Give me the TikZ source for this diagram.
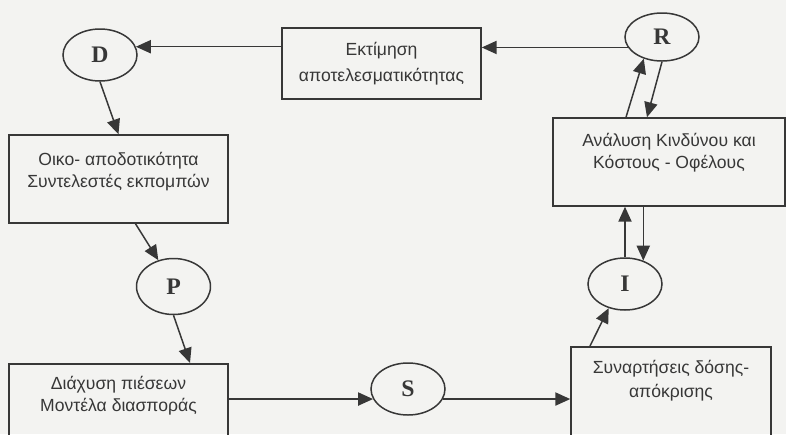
\documentclass[tikz,border=0pt]{standalone}
\usepackage{fontspec}
\setmainfont{Liberation Sans}
\newfontfamily\serifbold{Liberation Serif}
\usetikzlibrary{arrows.meta,shapes.geometric}
\definecolor{paper}{RGB}{243,243,241}
\definecolor{ink}{RGB}{55,55,55}
\tikzset{
  box/.style={draw=ink, line width=0.85pt, minimum width=4.38cm, minimum height=1.76cm},
  txt/.style={align=center, text=ink, font=\fontsize{10}{12.5}\selectfont},
  state/.style={ellipse, draw=ink, line width=0.85pt, minimum width=1.48cm, minimum height=1.04cm, inner sep=0pt, text=ink, font=\serifbold\bfseries\fontsize{13.5}{15}\selectfont},
  link/.style={->, draw=ink, line width=0.85pt}
}

\begin{document}
\begin{tikzpicture}[>={Triangle[length=8.5pt,width=7.5pt]}]
\useasboundingbox[fill=paper] (0,0) rectangle (15.72,-8.68);
\clip (0,0) rectangle (15.72,-8.68);

% boxes
\node[box, minimum width=3.98cm, minimum height=1.42cm, label={[txt]center:{Εκτίμηση\\[2.5pt]αποτελεσματικότητας}}] (est) at (7.63,-1.27) {};
\node[box, label={[txt,yshift=0.14cm]center:{Οικο- αποδοτικότητα\\Συντελεστές εκπομπών}}] (eco) at (2.37,-3.58) {};
\node[box, minimum width=4.64cm, label={[txt,yshift=0.18cm]center:{Ανάλυση Κινδύνου και\\Κόστους - Οφέλους}}] (ana) at (13.38,-3.24) {};
\node[box, anchor=north, minimum height=2cm, label={[txt,yshift=0.36cm]center:{Διάχυση πιέσεων\\Μοντέλα διασποράς}}] (dif) at (2.37,-7.26) {};
\node[box, anchor=north, minimum width=4cm, minimum height=2cm, label={[txt,yshift=0.32cm]center:{Συναρτήσεις δόσης-\\[1.5pt]απόκρισης}}] (syn) at (13.42,-6.92) {};

% states
\node[state] (d) at (2.00,-1.10) {D};
\node[state, minimum height=0.96cm] (r) at (13.24,-0.74) {R};
\node[state] (i) at (12.50,-5.68) {I};
\node[state, minimum height=1.12cm] (p) at (3.47,-5.73) {P};
\node[state] (s) at (8.16,-7.78) {S};

% arrows
\draw[link] (r.197) -- (r.197 -| est.east);
\draw[link] (d.13 -| est.west) -- (d.13);
\draw[link] (d.south) -- (eco.north);
\draw[link] ([xshift=0.34cm]eco.south) -- (p.120);
\draw[link] (p.south) -- ([xshift=1.43cm]dif.north);
\draw[link] (s.196 -| dif.east) -- (s.196);
\draw[link] (s.-16) -- (s.-16 -| syn.west);
\draw[link] ([xshift=-1.62cm]syn.north) -- (i.236);
\draw[link] (i.north) -- (i.north |- ana.south);
\draw[link] (i.52 |- ana.south) -- (i.52);
\draw[link] ([xshift=-0.86cm]ana.north) -- (r.230);
\draw[link] (r.south) -- ([xshift=-0.44cm]ana.north);

\end{tikzpicture}
\end{document}
